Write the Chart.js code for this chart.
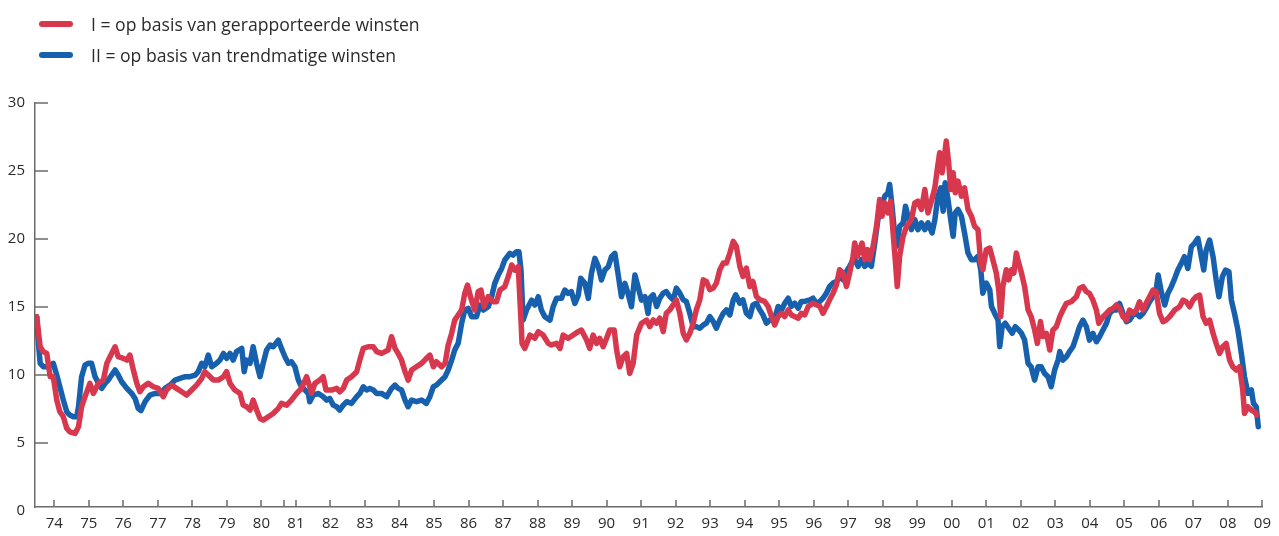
<!DOCTYPE html>
<html><head><meta charset="utf-8">
<script src="https://cdn.jsdelivr.net/npm/chart.js@4.4.0/dist/chart.umd.min.js"></script>
<style>
html,body{margin:0;padding:0;background:#fff;}
#wrap{position:relative;width:1279px;height:536px;overflow:hidden;}
#c{position:absolute;left:0;top:0;}
.item{position:absolute;left:39px;height:20px;white-space:nowrap;display:flex;align-items:center;font-family:"Open Sans",sans-serif;font-size:17.6px;color:#2b2b2b;}
.sw{width:34px;height:6px;border-radius:3px;margin-right:18px;flex:none;}
</style></head>
<body>
<div id="wrap">
<canvas id="c" width="1279" height="536"></canvas>
<div class="item" style="top:14px"><span class="sw" style="background:#d7384e"></span><span>I = op basis van gerapporteerde winsten</span></div>
<div class="item" style="top:45px"><span class="sw" style="background:#1660ad"></span><span>II = op basis van trendmatige winsten</span></div>
</div>
<script>
const seriesNames = ['I = op basis van gerapporteerde winsten', 'II = op basis van trendmatige winsten'];

const yearsI = [1973.49,1973.59,1973.68,1973.78,1973.88,1973.97,1974.07,1974.16,1974.26,1974.36,1974.45,1974.60,1974.70,1974.79,1974.89,1975.03,1975.13,1975.28,1975.42,1975.52,1975.66,1975.76,1975.85,1976.00,1976.10,1976.19,1976.29,1976.39,1976.48,1976.58,1976.72,1976.87,1977.01,1977.16,1977.25,1977.40,1977.54,1977.69,1977.83,1977.98,1978.12,1978.27,1978.36,1978.46,1978.61,1978.75,1978.90,1978.99,1979.09,1979.23,1979.38,1979.47,
1979.57,1979.67,1979.76,1979.86,1979.96,1980.05,1980.20,1980.34,1980.49,1980.58,1980.73,1980.87,1981.02,1981.16,1981.31,1981.40,1981.45,1981.55,1981.69,1981.79,1981.87,1982.03,1982.18,1982.27,1982.37,1982.47,1982.61,1982.76,1982.85,1982.95,1983.09,1983.24,1983.34,1983.48,1983.58,1983.67,1983.77,1983.87,1983.96,1984.06,1984.16,1984.25,1984.35,1984.49,1984.64,1984.78,1984.88,1984.98,1985.07,1985.22,
1985.32,1985.41,1985.51,1985.60,1985.70,1985.80,1985.89,1985.97,1986.07,1986.18,1986.28,1986.36,1986.45,1986.57,1986.72,1986.81,1986.91,1987.05,1987.15,1987.25,1987.34,1987.44,1987.52,1987.55,1987.63,1987.78,1987.92,1988.02,1988.16,1988.31,1988.40,1988.55,1988.65,1988.74,1988.89,1989.03,1989.18,1989.27,1989.42,1989.51,1989.61,1989.71,1989.80,1989.90,1990.00,1990.09,1990.22,1990.29,1990.38,1990.48,1990.58,1990.67,1990.77,1990.87,1991.01,1991.16,
1991.25,1991.35,1991.45,1991.54,1991.64,1991.73,1991.83,1991.93,1992.02,1992.12,1992.22,1992.31,1992.41,1992.51,1992.60,1992.70,1992.80,1992.89,1992.99,1993.09,1993.18,1993.28,1993.38,1993.47,1993.57,1993.67,1993.76,1993.86,1993.95,1994.05,1994.15,1994.24,1994.34,1994.44,1994.58,1994.68,1994.78,1994.87,1994.97,1995.07,1995.16,1995.26,1995.35,1995.45,1995.55,1995.64,1995.74,1995.84,1995.98,1996.08,1996.18,1996.27,1996.37,1996.46,1996.56,1996.66,1996.75,1996.85,1996.95,1997.04,1997.14,
1997.19,1997.27,1997.33,1997.40,1997.48,1997.56,1997.62,1997.72,1997.82,1997.91,1997.98,1998.06,1998.15,1998.23,1998.30,1998.37,1998.42,1998.49,1998.59,1998.69,1998.83,1998.93,1999.02,1999.12,1999.22,1999.31,1999.41,1999.51,1999.58,1999.65,1999.72,1999.80,1999.84,1999.91,1999.97,2000.04,2000.10,2000.18,2000.28,2000.37,2000.47,2000.57,2000.66,2000.76,2000.84,2000.90,2001.00,2001.10,2001.19,2001.29,2001.36,2001.42,2001.48,2001.58,2001.65,2001.73,2001.80,2001.87,2001.94,2002.02,2002.11,2002.21,2002.30,2002.40,2002.48,2002.57,2002.64,2002.74,2002.84,2002.93,2003.03,
2003.13,2003.22,2003.32,2003.46,2003.61,2003.70,2003.80,2003.90,2003.99,2004.09,2004.19,2004.26,2004.38,2004.48,2004.57,2004.67,2004.77,2004.86,2004.96,2005.06,2005.15,2005.25,2005.35,2005.44,2005.54,2005.63,2005.73,2005.83,2005.92,2006.02,2006.12,2006.21,2006.31,2006.46,2006.60,2006.70,2006.79,2006.89,2006.99,2007.08,2007.18,2007.28,2007.37,2007.47,2007.57,2007.66,2007.76,2007.85,2007.95,2008.05,2008.14,2008.24,2008.34,2008.43,2008.48,2008.58,2008.68,2008.77,2008.84];
const valuesI = [14.29,12.08,11.72,11.59,9.88,9.88,8.16,7.30,6.94,6.08,5.83,5.71,6.20,7.67,8.41,9.39,8.65,9.39,9.63,10.86,11.59,12.08,11.35,11.23,11.10,11.47,10.37,9.39,8.77,9.14,9.39,9.14,9.02,8.41,8.90,9.26,9.02,8.77,8.53,8.90,9.26,9.75,10.25,10.00,9.63,9.63,9.88,10.25,9.39,8.90,8.65,7.79,
7.67,7.43,8.16,7.43,6.81,6.69,6.94,7.18,7.55,7.92,7.79,8.16,8.65,9.02,9.88,9.14,8.65,9.39,9.63,9.88,8.90,8.90,9.02,8.77,9.02,9.63,9.88,10.25,11.10,11.96,12.08,12.08,11.72,11.59,11.72,11.84,12.82,11.96,11.59,11.10,10.25,9.63,10.37,10.61,10.86,11.23,11.47,10.61,10.98,10.61,
10.86,12.21,13.06,14.04,14.41,14.78,16.00,16.62,15.64,14.78,16.13,16.25,15.02,15.76,15.39,15.39,16.25,16.50,17.23,18.09,17.72,17.97,14.04,12.33,11.96,12.94,12.70,13.19,12.94,12.33,12.21,12.33,11.96,12.94,12.70,12.94,13.19,13.31,12.57,11.96,12.94,12.33,12.70,12.08,12.70,13.31,13.31,11.84,10.61,11.35,11.59,10.12,10.86,12.94,13.80,14.04,
13.56,14.05,13.81,14.18,13.19,14.54,14.79,15.16,15.53,14.54,13.07,12.58,13.07,13.81,14.79,15.53,17.00,16.88,16.27,16.39,16.76,17.74,18.23,18.23,18.97,19.83,19.46,17.99,17.25,17.86,16.51,16.88,15.77,15.53,15.41,15.04,14.30,13.68,14.30,14.54,14.30,14.79,14.42,14.30,14.18,14.54,14.42,15.04,15.28,15.16,15.04,14.54,15.04,15.53,16.02,16.64,17.74,17.50,16.51,17.50,18.72,
19.71,18.73,19.22,19.71,18.48,19.22,18.48,19.46,20.94,22.91,21.68,22.66,21.92,22.78,20.45,18.23,16.51,18.73,20.20,20.94,21.43,22.66,22.78,22.17,23.64,21.92,22.78,23.77,25.12,26.35,24.87,26.35,27.21,25.61,23.64,24.87,23.40,24.26,23.15,23.77,22.17,21.68,20.94,20.69,18.23,17.74,19.22,19.34,18.48,17.50,16.27,14.30,16.51,17.74,17.00,17.74,17.50,18.97,18.23,17.50,16.51,14.79,14.30,13.32,12.33,13.93,12.83,13.07,11.84,13.32,13.56,
14.29,14.78,15.27,15.39,15.76,16.37,16.50,16.13,16.00,15.51,14.78,13.80,14.29,14.53,14.78,14.90,15.15,14.90,14.29,14.04,14.78,14.53,14.78,15.39,14.78,15.27,15.76,16.25,16.13,14.53,13.92,14.04,14.29,14.78,15.02,15.51,15.39,15.02,15.51,15.76,15.88,14.29,13.80,14.04,13.06,12.33,11.59,12.08,12.33,11.10,10.61,10.37,10.61,8.90,7.18,7.67,7.43,7.30,7.06];

const yearsII = [1973.49,1973.54,1973.59,1973.68,1973.83,1973.97,1974.07,1974.16,1974.26,1974.36,1974.45,1974.55,1974.65,1974.70,1974.79,1974.89,1974.99,1975.08,1975.18,1975.28,1975.37,1975.47,1975.56,1975.66,1975.76,1975.85,1975.95,1976.10,1976.24,1976.34,1976.43,1976.51,1976.63,1976.77,1976.92,1977.06,1977.21,1977.35,1977.50,1977.64,1977.79,1977.93,1978.08,1978.17,1978.27,1978.36,1978.46,1978.56,1978.70,1978.80,1978.90,1978.99,1979.09,1979.18,1979.28,1979.43,1979.50,
1979.57,1979.67,1979.76,1979.86,1979.96,1980.05,1980.15,1980.25,1980.34,1980.49,1980.58,1980.68,1980.78,1980.87,1980.97,1981.07,1981.16,1981.26,1981.36,1981.40,1981.50,1981.65,1981.79,1981.89,1981.98,1982.08,1982.18,1982.27,1982.37,1982.47,1982.61,1982.76,1982.85,1982.95,1983.05,1983.14,1983.24,1983.34,1983.48,1983.63,1983.77,1983.87,1983.96,1984.06,1984.16,1984.25,1984.35,1984.49,1984.64,1984.78,1984.88,1984.98,1985.07,1985.22,
1985.32,1985.41,1985.51,1985.60,1985.70,1985.80,1985.89,1985.99,1986.09,1986.23,1986.33,1986.43,1986.57,1986.67,1986.76,1986.86,1986.96,1987.05,1987.20,1987.29,1987.39,1987.46,1987.52,1987.58,1987.68,1987.83,1987.92,1988.02,1988.11,1988.21,1988.36,1988.45,1988.55,1988.69,1988.79,1988.89,1988.98,1989.08,1989.18,1989.25,1989.37,1989.47,1989.56,1989.66,1989.76,1989.85,1989.95,1990.05,1990.14,1990.24,1990.33,1990.43,1990.53,1990.62,1990.72,1990.82,1990.91,1991.01,1991.11,1991.20,
1991.25,1991.35,1991.45,1991.54,1991.64,1991.73,1991.83,1991.93,1992.02,1992.12,1992.22,1992.31,1992.41,1992.51,1992.60,1992.70,1992.80,1992.89,1992.99,1993.09,1993.18,1993.28,1993.38,1993.47,1993.57,1993.67,1993.74,1993.86,1993.95,1994.05,1994.15,1994.24,1994.34,1994.44,1994.53,1994.63,1994.73,1994.87,1994.97,1995.07,1995.16,1995.26,1995.35,1995.45,1995.55,1995.64,1995.74,1995.89,1995.98,1996.08,1996.18,1996.27,1996.37,1996.46,1996.56,1996.66,1996.75,1996.85,1996.95,1997.04,1997.14,
1997.19,1997.29,1997.38,1997.48,1997.57,1997.67,1997.77,1997.86,1997.96,1998.06,1998.15,1998.20,1998.27,1998.35,1998.40,1998.49,1998.59,1998.66,1998.73,1998.83,1998.93,1999.02,1999.12,1999.22,1999.31,1999.43,1999.51,1999.60,1999.68,1999.75,1999.81,1999.89,1999.97,2000.04,2000.10,2000.18,2000.28,2000.37,2000.47,2000.57,2000.66,2000.76,2000.84,2000.90,2001.00,2001.10,2001.15,2001.24,2001.34,2001.39,2001.46,2001.55,2001.65,2001.75,2001.84,2001.94,2002.02,2002.11,2002.21,2002.30,2002.40,2002.50,2002.59,2002.69,2002.79,2002.88,2002.98,2003.08,
2003.13,2003.22,2003.32,2003.41,2003.51,2003.61,2003.70,2003.80,2003.90,2003.99,2004.09,2004.19,2004.28,2004.38,2004.48,2004.57,2004.67,2004.77,2004.86,2004.96,2005.06,2005.15,2005.25,2005.35,2005.44,2005.54,2005.63,2005.73,2005.83,2005.92,2005.98,2006.07,2006.17,2006.26,2006.36,2006.46,2006.55,2006.65,2006.74,2006.84,2006.94,2007.03,2007.13,2007.23,2007.30,2007.37,2007.47,2007.57,2007.66,2007.74,2007.84,2007.93,2008.03,2008.10,2008.19,2008.29,2008.39,2008.48,2008.58,2008.68,2008.74,2008.82,2008.88];
const valuesII = [14.29,12.33,10.86,10.61,10.61,10.86,10.00,9.14,8.16,7.30,7.06,6.94,6.94,7.67,9.88,10.74,10.86,10.86,9.88,9.39,9.02,9.39,9.63,10.00,10.37,10.00,9.51,9.02,8.65,8.28,7.55,7.38,8.04,8.53,8.65,8.65,9.02,9.26,9.63,9.75,9.88,9.88,10.00,10.25,10.86,10.61,11.47,10.61,10.86,11.10,11.59,11.23,11.59,11.10,11.72,11.96,10.25,
11.10,10.86,12.08,10.86,9.88,10.86,11.84,12.21,12.08,12.57,11.96,11.35,10.86,10.98,10.61,9.63,9.14,8.90,8.65,8.04,8.53,8.65,8.41,8.16,8.28,7.79,7.67,7.43,7.79,8.04,7.92,8.41,8.65,9.14,8.90,9.02,8.90,8.65,8.65,8.41,9.02,9.26,9.02,8.90,8.16,7.67,8.16,8.04,8.16,7.92,8.41,9.14,9.26,9.63,
9.88,10.37,11.10,11.84,12.33,13.80,14.78,14.90,14.29,14.29,15.15,14.78,15.02,15.76,16.74,17.35,17.84,18.46,18.95,18.82,19.07,19.07,17.72,14.04,14.78,15.51,15.15,15.76,14.78,14.29,14.04,15.02,15.64,15.64,16.25,16.00,16.13,15.27,15.88,17.11,16.74,15.64,17.48,18.58,17.97,16.99,17.72,17.97,18.70,18.95,17.48,15.76,16.74,16.00,15.02,17.35,16.50,15.51,15.76,14.53,
15.65,15.90,15.04,15.65,16.02,16.14,15.77,15.53,16.39,16.02,15.53,15.41,14.54,13.56,13.56,13.44,13.68,13.81,14.30,13.93,13.44,14.05,14.54,14.79,14.42,15.53,15.90,15.28,15.53,14.54,14.30,15.16,15.28,14.79,14.42,13.81,14.05,14.18,15.04,14.79,15.28,15.65,15.04,15.28,14.91,15.41,15.41,15.53,15.65,15.28,15.41,15.65,16.02,16.51,16.76,16.88,17.25,17.00,17.62,17.99,18.48,
18.48,17.99,18.48,17.99,18.23,17.99,19.71,21.43,22.41,23.15,23.40,24.01,22.41,20.20,19.46,20.94,21.19,22.41,21.68,20.69,21.43,20.69,21.19,20.69,21.19,20.45,21.43,23.15,23.77,22.05,24.14,22.91,21.43,20.20,21.92,22.17,21.68,20.45,18.97,18.48,18.48,18.73,17.74,16.02,16.76,16.27,15.04,14.55,14.05,12.09,13.56,13.81,13.44,13.07,13.56,13.32,13.07,12.58,10.86,10.61,9.63,10.61,10.61,10.12,9.87,9.14,10.37,11.10,
11.72,11.10,11.35,11.72,12.08,12.82,13.55,14.04,13.55,12.57,13.06,12.45,12.82,13.31,13.80,14.53,14.78,14.78,15.27,14.53,13.92,14.04,14.41,14.53,14.29,14.53,14.90,15.39,15.76,16.25,17.35,16.13,15.15,16.00,16.50,17.11,17.72,18.21,18.70,17.84,19.44,19.68,20.05,18.70,17.72,19.19,19.93,18.70,16.99,15.76,17.23,17.72,17.60,15.51,14.53,13.31,11.59,9.88,8.65,8.90,7.92,7.67,6.20];

const tickYears = [1974,1975,1976,1977,1978,1979,1980,1981,1982,1983,1984,1985,1986,1987,1988,1989,1990,1991,1992,1993,1994,1995,1996,1997,1998,1999,2000,2001,2002,2003,2004,2005,2006,2007,2008,2009];
const tickLabels = ['74','75','76','77','78','79','80','81','82','83','84','85','86','87','88','89','90','91','92','93','94','95','96','97','98','99','00','01','02','03','04','05','06','07','08','09'];
const extraTickYears = [1980.64];
const yTickValues = [0,5,10,15,20,25,30];
const yTickLabels = ['0','5','10','15','20','25','30'];

const axisColor = '#6b6b6b';
const textColor = '#2b2b2b';
const fontFamily = '"Open Sans", sans-serif';

const tickMarks = {
  id: 'tickMarks',
  beforeDatasetsDraw(chart) {
    const {ctx, chartArea, scales: {x, y}} = chart;
    ctx.save();
    ctx.strokeStyle = axisColor;
    ctx.lineWidth = 1.5;
    ctx.beginPath();
    tickYears.concat(extraTickYears).forEach(v => {
      const px = Math.round(x.getPixelForValue(v));
      ctx.moveTo(px, chartArea.bottom);
      ctx.lineTo(px, chartArea.bottom - 7);
    });
    yTickValues.forEach(v => {
      if (v <= y.min) return;
      const py = Math.round(y.getPixelForValue(v));
      ctx.moveTo(chartArea.left, py);
      ctx.lineTo(chartArea.left + 13, py);
    });
    ctx.stroke();
    ctx.restore();
  }
};

const toPoints = (xs, ys) => xs.map((v, i) => ({x: v, y: ys[i]}));

new Chart(document.getElementById('c'), {
  type: 'line',
  data: {
    datasets: [
      {label: seriesNames[0], data: toPoints(yearsI, valuesI), borderColor: '#d7384e', borderWidth: 5.5, pointRadius: 0, tension: 0},
      {label: seriesNames[1], data: toPoints(yearsII, valuesII), borderColor: '#1660ad', borderWidth: 5.5, pointRadius: 0, tension: 0}
    ]
  },
  options: {
    responsive: false,
    animation: false,
    layout: {padding: {left: 0, right: 16, top: 103, bottom: 0}},
    elements: {line: {borderJoinStyle: 'round', borderCapStyle: 'round'}},
    plugins: {legend: {display: false}, tooltip: {enabled: false}},
    scales: {
      x: {
        type: 'linear', min: 1973.44, max: 2009.0,
        afterBuildTicks: s => { s.ticks = tickYears.map(v => ({value: v})); },
        afterFit: s => { s.height = 29; },
        grid: {display: false, drawTicks: false},
        border: {display: true, color: axisColor, width: 1.5},
        ticks: {autoSkip: false, maxRotation: 0, padding: 8, color: textColor,
          font: {family: fontFamily, size: 15},
          callback: (v) => tickLabels[tickYears.indexOf(v)]}
      },
      y: {
        min: 0.3, max: 30,
        afterBuildTicks: s => { s.ticks = yTickValues.map(v => ({value: v})); },
        afterFit: s => { s.width = 35; },
        grid: {display: false, drawTicks: false},
        border: {display: true, color: axisColor, width: 1.5},
        ticks: {padding: 10, color: textColor, font: {family: fontFamily, size: 15},
          callback: (v) => yTickLabels[yTickValues.indexOf(v)]}
      }
    }
  },
  plugins: [tickMarks]
});
</script>
</body></html>
